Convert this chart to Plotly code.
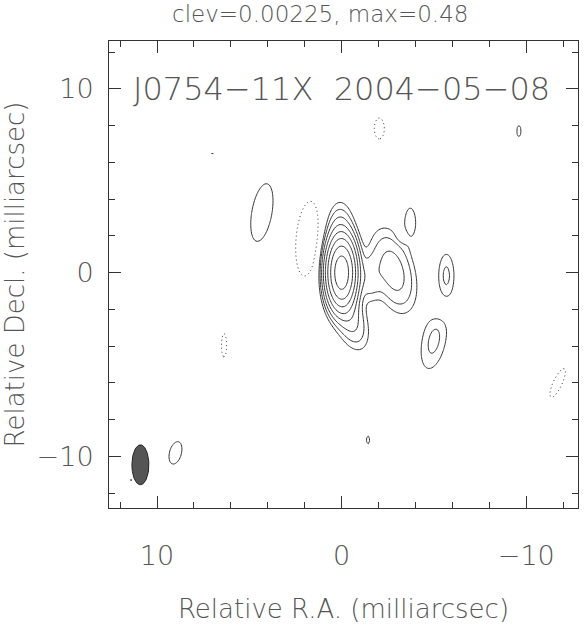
import numpy as np
import plotly.graph_objects as go

# contour setup
CLEV = 0.00225
PEAK = 0.48
N_POS_LEVELS = 8          # clev * 2**k, k = 0..7

# restoring beam (mas): centre, FWHM along RA, FWHM along Dec
BEAM_X, BEAM_Y = 10.9, -10.45
BEAM_FX, BEAM_FY = 0.92, 2.17

# image model: gaussian components (x, y in mas, flux in Jy/beam)
COMP_X    = [0.0,   0.1,   -0.2,  -1.5,  -2.8,  -0.7,   4.32,   1.85,  -3.72,  -3.3,    -5.67,   -5.0,    -5.4,    -2.04,  -9.6,   7.0,    6.37,   -11.7,  9.0,    -1.43,  11.4,   5.4]
COMP_Y    = [0.0,   1.9,   -1.7,  -0.3,   0.1,  -2.8,   3.27,   1.85,   2.72,   1.95,   -0.15,   -3.7,    -2.0,     7.84,   7.7,   6.5,   -3.95,   -6.0,  -9.8,   -9.1,  -11.3,  12.45]
COMP_FLUX = [0.452, 0.013, 0.012, 0.007, 0.013, 0.006,  0.0042, -0.0042, 0.0042, -0.0018, 0.00514, 0.00537, -0.0018, -0.0042, 0.0028, 0.0024, -0.0028, -0.0042, 0.0042, 0.0028, 0.0024, 0.0024]
COMP_FX   = [0.92,  1.0,   1.0,   1.0,   1.45,  1.1,    1.15,   1.3,    0.6,    0.7,     0.75,    1.12,    1.0,     0.57,   0.4,    0.3,    0.5,    0.5,    0.68,   0.3,    0.3,    0.3]
COMP_FY   = [2.17,  2.4,   2.4,   1.8,   3.0,   2.2,    3.35,   4.3,    1.65,   0.7,     2.1,     2.75,    1.2,     1.2,    1.07,   0.3,    2.3,    1.8,    1.32,   0.77,   0.3,    0.3]
COMP_PA   = [0,     0,     10,    0,     15,    15,     -10,    -5,     0,      0,       0,       -12,     0,       0,      0,      0,      0,      -25,    -15,    0,      0,      0]

X_RANGE = [12.6, -12.8]
Y_RANGE = [-12.8, 12.6]

SOURCE = "J0754\u221211X  2004\u221205\u221208"


def gauss2d(X, Y, x0, y0, amp, fx, fy, pa):
    t = np.deg2rad(pa)
    dx, dy = X - x0, Y - y0
    u = dx * np.cos(t) - dy * np.sin(t)
    v = dx * np.sin(t) + dy * np.cos(t)
    return amp * np.exp(-4 * np.log(2) * ((u / fx) ** 2 + (v / fy) ** 2))


xs = np.arange(-12.8, 12.6001, 0.08)
ys = np.arange(-12.8, 12.6001, 0.08)
X, Y = np.meshgrid(xs, ys)
field = np.zeros_like(X)
for c in zip(COMP_X, COMP_Y, COMP_FLUX, COMP_FX, COMP_FY, COMP_PA):
    field += gauss2d(X, Y, *c)

z_pos = np.round(np.log2(np.clip(field, 1e-9, None) / CLEV), 3)
z_neg = np.round(-field / CLEV, 3)

LINE = '#333333'
TXT = '#555555'
FONT = 'DejaVu Sans'

fig = go.Figure()

fig.add_trace(go.Contour(
    x=xs, y=ys, z=z_pos,
    autocontour=False,
    contours=dict(start=0, end=N_POS_LEVELS - 1, size=1, coloring='none'),
    line=dict(color=LINE, width=1, smoothing=1),
    showscale=False, hoverinfo='skip'))

fig.add_trace(go.Contour(
    x=xs, y=ys, z=z_neg,
    autocontour=False,
    contours=dict(start=1, end=1.5, size=1, coloring='none'),
    line=dict(color=LINE, width=1, dash='1px,3px', smoothing=1),
    showscale=False, hoverinfo='skip'))

# beam ellipse
th = np.linspace(0, 2 * np.pi, 90)
bx = BEAM_X + BEAM_FX / 2 * np.cos(th)
by = BEAM_Y + BEAM_FY / 2 * np.sin(th)
fig.add_trace(go.Scatter(
    x=bx, y=by, mode='lines', fill='toself',
    fillcolor='#555555', line=dict(color='#222222', width=1),
    showlegend=False, hoverinfo='skip'))

fig.add_annotation(
    x=0.0, y=10.0, xref='x', yref='y', text=SOURCE, showarrow=False,
    font=dict(family=FONT, size=32, color=TXT, weight=200))

fig.add_annotation(
    x=(320 - 109) / 469, y=1.0, xref='paper', yref='paper',
    text=f'clev={CLEV}, max={PEAK}',
    showarrow=False, yanchor='bottom', yshift=12,
    font=dict(family=FONT, size=23, color=TXT, weight=200))

axis = dict(
    showgrid=False, zeroline=False, showline=True, linecolor=LINE, linewidth=1,
    mirror='ticks', ticks='inside', ticklen=12, tickwidth=1, tickcolor=LINE,
    tickvals=[-10, 0, 10], automargin=False,
    minor=dict(ticks='inside', ticklen=6, tickwidth=1, tickcolor=LINE, dtick=2, tick0=0),
    tickfont=dict(family=FONT, size=27, color=TXT, weight=200),
    title_font=dict(family=FONT, size=26, color=TXT, weight=200))

fig.update_layout(
    width=587, height=627,
    margin=dict(l=109, r=9, t=41, b=119),
    plot_bgcolor='white', paper_bgcolor='white',
    showlegend=False,
    xaxis=dict(axis, range=X_RANGE, ticklabelstandoff=24,
               title=dict(text='Relative R.A. (milliarcsec)', standoff=29)),
    yaxis=dict(axis, range=Y_RANGE, ticklabelstandoff=9,
               title=dict(text='Relative Decl. (milliarcsec)', standoff=14)))

# drop the default 8px page margin so the figure fills the window
fig.write_html("out.html", config={'displayModeBar': False},
               post_script="document.body.style.margin='0';")
